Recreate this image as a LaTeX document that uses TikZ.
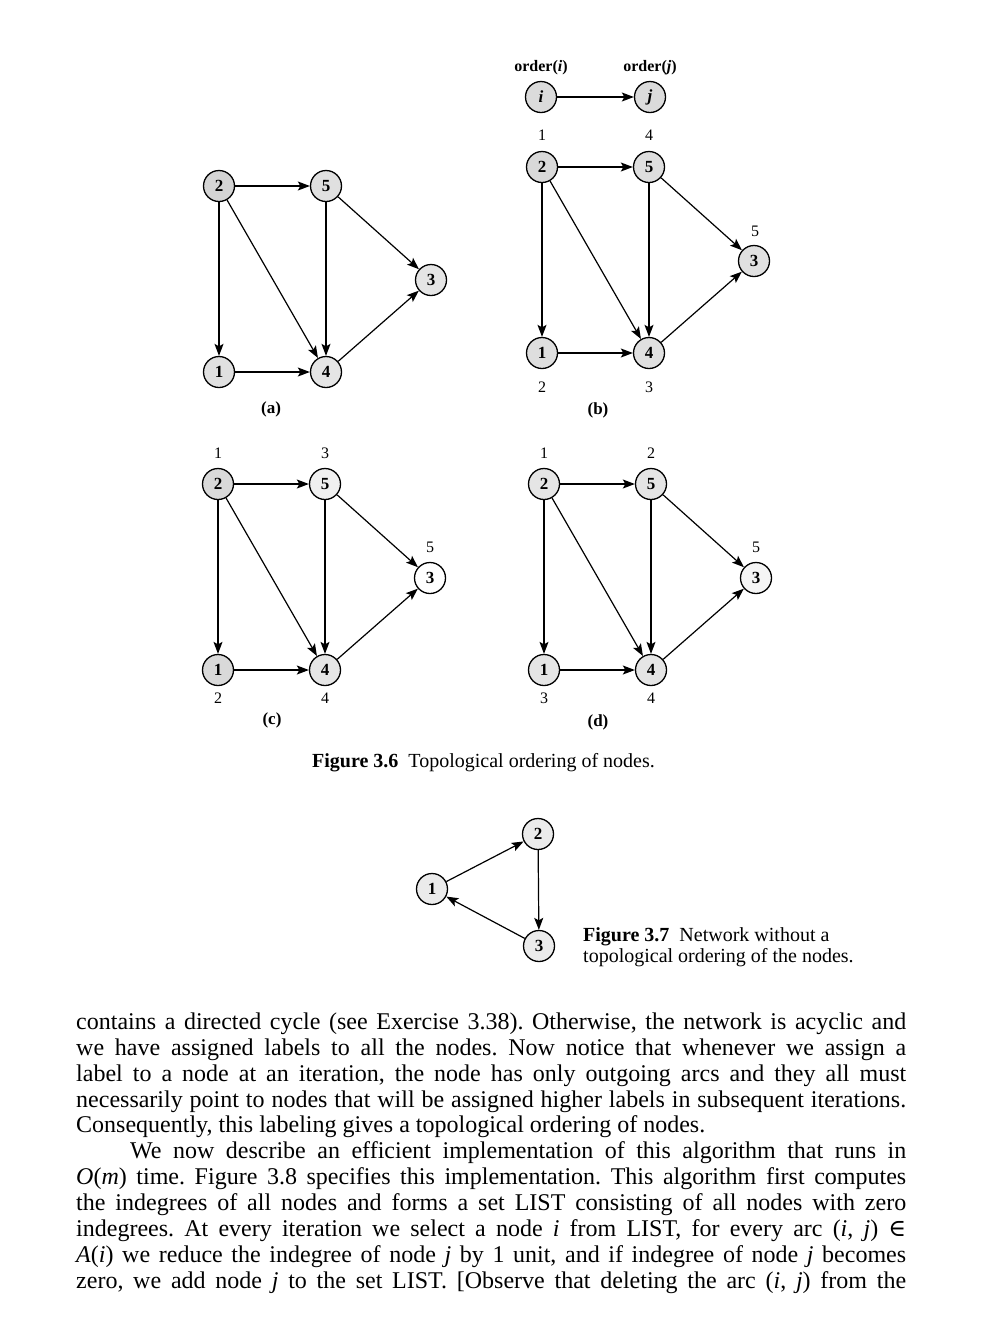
\documentclass[tikz,border=0pt]{standalone}
\usepackage{fontspec}
\setmainfont{Liberation Serif}
\newfontfamily\symfont{DejaVu Serif}
\usetikzlibrary{arrows.meta}
\tikzset{
  vx/.style={circle,draw,line width=1.3pt,minimum size=31pt,inner sep=0pt,
    font=\fontsize{17}{17}\selectfont\bfseries},
  arc/.style={line width=1.2pt,-{Stealth[length=12pt,width=9pt,inset=2.5pt]}},
  ordlbl/.style={inner sep=0pt,font=\fontsize{16}{16}\selectfont},
  sublbl/.style={inner sep=0pt,font=\fontsize{17}{17}\selectfont\bfseries},
  bodyline/.style={anchor=base west,inner sep=0pt,font=\fontsize{24}{26}\selectfont\frenchspacing},
  capline/.style={anchor=base west,inner sep=0pt,font=\fontsize{20}{21}\selectfont},
}
\newcommand\topog[8]{%
  \begin{scope}[shift={(#2,#3)}]
    \node[vx,fill=#4] (#1two)   at (0,0)     {2};
    \node[vx,fill=#5] (#1five)  at (107,0)   {5};
    \node[vx,fill=#6] (#1three) at (212,94)  {3};
    \node[vx,fill=#7] (#1one)   at (0,186)   {1};
    \node[vx,fill=#8] (#1four)  at (107,186) {4};
  \end{scope}
  \draw[arc] (#1two) -- (#1five);
  \draw[arc] (#1two) -- (#1one);
  \draw[arc] (#1two) -- (#1four);
  \draw[arc] (#1five) -- (#1four);
  \draw[arc] (#1five) -- (#1three);
  \draw[arc] (#1one) -- (#1four);
  \draw[arc] (#1four) -- (#1three);
}
\begin{document}
\begin{tikzpicture}[x=1pt,y=-1pt]
\useasboundingbox[fill=white] (0,0) rectangle (1006,1318);

% legend
\node[ordlbl,font=\fontsize{16}{16}\selectfont\bfseries] (ordi) at (541,68) {order(\textit{i})};
\node[ordlbl,font=\fontsize{16}{16}\selectfont\bfseries] (ordj) at (650,68) {order(\textit{j})};
\node[vx,fill=black!14,font=\fontsize{17}{17}\selectfont\bfseries\itshape] (li) at (541,97) {i};
\node[vx,fill=black!14,font=\fontsize{17}{17}\selectfont\bfseries\itshape] (lj) at (650,97) {j};
\draw[arc] (li) -- (lj);

% (a)
\topog{a}{219}{186}{black!17}{black!12}{black!10}{black!12}{black!10}
\node[sublbl] (capa) at (271,409) {(a)};

% (b)
\topog{b}{542}{167}{black!15}{black!13}{black!12}{black!13}{black!12}
\node[ordlbl] (bo2) at (542,135) {1};
\node[ordlbl] (bo5) at (649,135) {4};
\node[ordlbl] (bo3) at (755,231) {5};
\node[ordlbl] (bo1) at (542,387) {2};
\node[ordlbl] (bo4) at (649,387) {3};
\node[sublbl] (capb) at (598,410) {(b)};

% (c)
\topog{c}{218}{484}{black!15}{black!6}{white}{black!15}{black!10}
\node[ordlbl] (co2) at (218,453) {1};
\node[ordlbl] (co5) at (325,453) {3};
\node[ordlbl] (co3) at (430,547) {5};
\node[ordlbl] (co1) at (218,698) {2};
\node[ordlbl] (co4) at (325,698) {4};
\node[sublbl] (capc) at (272,720) {(c)};

% (d)
\topog{d}{544}{484}{black!10}{black!10}{black!4}{black!10}{black!10}
\node[ordlbl] (do2) at (544,453) {1};
\node[ordlbl] (do5) at (651,453) {2};
\node[ordlbl] (do3) at (756,547) {5};
\node[ordlbl] (do1) at (544,698) {3};
\node[ordlbl] (do4) at (651,698) {4};
\node[sublbl] (capd) at (598,722) {(d)};

\node[capline] (cap36) at (312,767) {\textbf{Figure 3.6}\hspace{10pt}Topological ordering of nodes.};

% Figure 3.7
\node[vx,fill=black!8] (e1) at (432,889) {1};
\node[vx,fill=black!8] (e2) at (538,834) {2};
\node[vx,fill=black!8] (e3) at (539,946) {3};
\draw[arc] (e1) -- (e2);
\draw[arc] (e2) -- (e3);
\draw[arc] (e3) -- (e1);
\node[capline] (cap37a) at (583,941) {\textbf{Figure 3.7}\hspace{10pt}Network without a};
\node[capline] (cap37b) at (583,962) {topological ordering of the nodes.};

% body text
\node[bodyline] (l1) at (76,1029) {\makebox[830pt][s]{contains a directed cycle (see Exercise 3.38). Otherwise, the network is acyclic and}};
\node[bodyline] (l2) at (76,1055) {\makebox[830pt][s]{we have assigned labels to all the nodes. Now notice that whenever we assign a}};
\node[bodyline] (l3) at (76,1081) {\makebox[830pt][s]{label to a node at an iteration, the node has only outgoing arcs and they all must}};
\node[bodyline] (l4) at (76,1107) {\makebox[830pt][s]{necessarily point to nodes that will be assigned higher labels in subsequent iterations.}};
\node[bodyline] (l5) at (76,1132) {Consequently, this labeling gives a topological ordering of nodes.};
\node[bodyline] (l6) at (130,1158) {\makebox[776pt][s]{We now describe an efficient implementation of this algorithm that runs in}};
\node[bodyline] (l7) at (76,1184) {\makebox[830pt][s]{\textit{O}(\textit{m}) time. Figure 3.8 specifies this implementation. This algorithm first computes}};
\node[bodyline] (l8) at (76,1210) {\makebox[830pt][s]{the indegrees of all nodes and forms a set LIST consisting of all nodes with zero}};
\node[bodyline] (l9) at (76,1236) {\makebox[830pt][s]{indegrees. At every iteration we select a node \textit{i} from LIST, for every arc (\textit{i}, \textit{j}) {\symfont ∈}}};
\node[bodyline] (l10) at (76,1262) {\makebox[830pt][s]{\textit{A}(\textit{i}) we reduce the indegree of node \textit{j} by 1 unit, and if indegree of node \textit{j} becomes}};
\node[bodyline] (l11) at (76,1288) {\makebox[830pt][s]{zero, we add node \textit{j} to the set LIST. [Observe that deleting the arc (\textit{i}, \textit{j}) from the}};
\end{tikzpicture}
\end{document}
